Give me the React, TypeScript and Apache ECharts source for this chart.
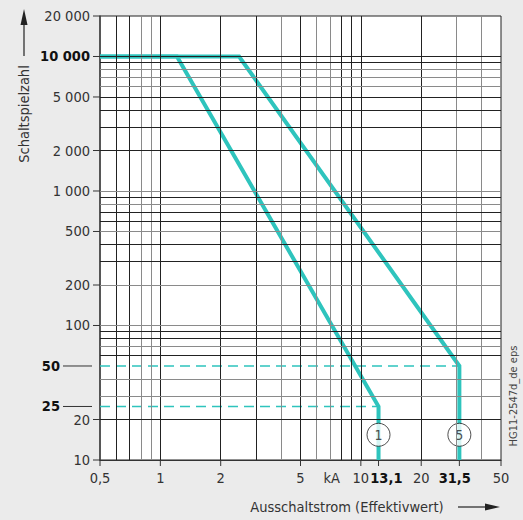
import React, { useEffect, useRef } from 'react';
import * as echarts from 'echarts';

// ---- data ----
const xGridValues = [0.6, 0.7, 0.8, 0.9, 1, 2, 3, 4, 5, 6, 7, 8, 9, 10, 20, 30, 40];
const yGridValues = [10000, 9000, 8000, 7000, 6000, 5000, 4000, 3000, 2000, 1000, 900, 800, 700, 600, 500, 400, 300, 200, 100, 90, 80, 70, 60, 40, 30, 20];
const xTickValues = [0.5, 1, 2, 5, 10, 20, 50];
const xTickLabels = ['0,5', '1', '2', '5', '10', '20', '50'];
const ratedLabels = ['13,1', '31,5'];
const ratedLabelValues = [13.1, 31.5];
const ratedLineValues = [12.25, 31];
const unitLabel = 'kA';
const unitLabelValue = 7.15;
const yTickValues = [20000, 10000, 5000, 2000, 1000, 500, 200, 100, 20, 10];
const yTickLabels = ['20 000', '10 000', '5 000', '2 000', '1 000', '500', '200', '100', '20', '10'];
const yMarkValues = [50, 25];
const yMarkLabels = ['50', '25'];
const curve1: number[][] = [[0.5, 10000], [1.21, 10000], [12.25, 25], [12.25, 10]];
const curve5: number[][] = [[0.5, 10000], [2.47, 10000], [31, 50], [31, 10]];
const dash25: number[][] = [[0.5, 25], [12.25, 25]];
const dash50: number[][] = [[0.5, 50], [31, 50]];
const markerLabels = ['1', '5'];
const markerPoints: number[][] = [[12.25, 15.4], [31, 15.4]];
const yTitle = 'Schaltspielzahl';
const xTitle = 'Ausschaltstrom (Effektivwert)';
const codeText = 'HG11-2547d_de eps';

// ---- styles ----
const CYAN = '#2ec4bd';
const DARK = '#222222';
const GRAY = '#8a8a8a';
const TEXT = '#333333';
const FONT = '"Liberation Sans Narrow", "DejaVu Sans Condensed", "Roboto", sans-serif';
const FS = 14.5;
const grayGrid = new Set([0.8, 0.9, 4, 6, 7, 40, 8000, 7000, 6000, 1000, 800, 500, 200, 100, 70, 30]);
const boldY = new Set(['10 000']);

export default function App() {
  const ref = useRef<HTMLDivElement>(null);
  useEffect(() => {
    const el = ref.current!;
    const chart = echarts.init(el, null, { renderer: 'svg' });
    const gridLines = [
      ...xGridValues.map((v) => ({ xAxis: v, lineStyle: { color: grayGrid.has(v) ? GRAY : DARK, width: 1, type: 'solid' } })),
      ...yGridValues.map((v) => ({ yAxis: v, lineStyle: { color: grayGrid.has(v) ? GRAY : DARK, width: 1, type: 'solid' } })),
    ];
    chart.setOption({
      animation: false,
      backgroundColor: '#ebebeb',
      grid: { left: 100, right: 22, top: 16, bottom: 60, show: true, backgroundColor: '#ffffff', borderColor: DARK, borderWidth: 1, containLabel: false, outerBoundsMode: 'none' },
      xAxis: {
        type: 'log', logBase: 10, min: 0.5, max: 50,
        axisLine: { show: true, onZero: false, lineStyle: { color: '#333', width: 1.2 } },
        axisTick: { show: false }, axisLabel: { show: false }, splitLine: { show: false },
      },
      yAxis: {
        type: 'log', logBase: 10, min: 10, max: 20000,
        axisLine: { show: true, onZero: false, lineStyle: { color: '#444', width: 1.5 } },
        axisTick: { show: false }, axisLabel: { show: false }, splitLine: { show: false },
      },
      series: [
        {
          type: 'line', z: 1, data: [[0.5, 10], [50, 20000]], symbol: 'none', silent: true,
          lineStyle: { opacity: 0, width: 0 },
          markLine: { silent: true, symbol: ['none', 'none'], label: { show: false }, emphasis: { disabled: true }, data: gridLines },
        },
        { type: 'line', z: 2, data: dash50, symbol: 'none', silent: true, lineStyle: { color: CYAN, width: 1.5, type: [10, 6] } },
        { type: 'line', z: 2, data: dash25, symbol: 'none', silent: true, lineStyle: { color: CYAN, width: 1.5, type: [10, 6] } },
        { type: 'line', z: 3, data: curve1, symbol: 'none', silent: true, lineStyle: { color: CYAN, width: 4, join: 'miter' } },
        { type: 'line', z: 3, data: curve5, symbol: 'none', silent: true, lineStyle: { color: CYAN, width: 4, join: 'miter' } },
        {
          type: 'scatter', z: 4, data: markerPoints, symbol: 'circle', symbolSize: 23, silent: true,
          itemStyle: { color: '#fff', borderColor: '#222', borderWidth: 1 },
          label: { show: true, position: 'inside', formatter: (p: any) => markerLabels[p.dataIndex], color: '#222', fontSize: 14, fontFamily: FONT },
        },
      ],
    });

    const P = (x: number, y: number) => chart.convertToPixel({ gridIndex: 0 }, [x, y]) as number[];
    const origin = P(0.5, 10);
    const leftX = origin[0];
    const bottomY = origin[1];
    const txt = (x: number, y: number, text: string, o: any = {}) => ({
      type: 'text', x, y, rotation: o.rotation || 0, silent: true, z: 10,
      style: {
        text, fill: o.fill || TEXT, fontSize: o.fontSize || FS, fontFamily: FONT, fontWeight: o.bold ? 'bold' : 'normal',
        align: o.align || 'center', textAlign: o.align || 'center', verticalAlign: 'middle', textVerticalAlign: 'middle',
      },
    });
    const line = (x1: number, y1: number, x2: number, y2: number, color = '#333', w = 1) => ({
      type: 'line', silent: true, z: 10, shape: { x1, y1, x2, y2 }, style: { stroke: color, lineWidth: w },
    });
    const g: any[] = [];
    // x ticks & labels
    xTickValues.forEach((v, i) => {
      const px = P(v, 10)[0];
      g.push(line(px, bottomY, px, bottomY + 6));
      g.push(txt(px, bottomY + 18, xTickLabels[i]));
    });
    ratedLineValues.forEach((v) => {
      const px = P(v, 10)[0];
      g.push(line(px, bottomY, px, bottomY + 6));
    });
    ratedLabelValues.forEach((v, i) => {
      const px = P(v, 10)[0] + (i === 0 ? 2 : -6);
      g.push(txt(px, bottomY + 18, ratedLabels[i], { bold: true, fill: '#111' }));
    });
    g.push(txt(P(unitLabelValue, 10)[0], bottomY + 18, unitLabel));
    // y ticks & labels
    yTickValues.forEach((v, i) => {
      const py = P(0.5, v)[1];
      g.push(line(leftX - 7, py, leftX, py));
      const b = boldY.has(yTickLabels[i]);
      g.push(txt(leftX - 10, py, yTickLabels[i], { align: 'right', bold: b, fill: b ? '#111' : TEXT }));
    });
    yMarkValues.forEach((v, i) => {
      const py = P(0.5, v)[1];
      g.push(line(leftX - 37, py, leftX - 8, py));
      g.push(txt(leftX - 40, py, yMarkLabels[i], { align: 'right', bold: true, fill: '#111' }));
    });
    // axis titles with arrows
    g.push(txt(24, 114, yTitle, { rotation: Math.PI / 2 }));
    g.push(line(24, 56, 24, 24, '#222', 1.2));
    g.push({ type: 'polygon', silent: true, z: 10, shape: { points: [[24, 9], [20.5, 25], [27.5, 25]] }, style: { fill: '#222' } });
    g.push(txt(347, 507, xTitle));
    g.push(line(458, 507, 488, 507, '#222', 1.2));
    g.push({ type: 'polygon', silent: true, z: 10, shape: { points: [[500, 507], [485, 503.5], [485, 510.5]] }, style: { fill: '#222' } });
    g.push(txt(513, 396, codeText, { rotation: Math.PI / 2, fontSize: 11, fill: '#444' }));
    chart.setOption({ graphic: g });
    return () => chart.dispose();
  }, []);
  return <div ref={ref} style={{ position: 'fixed', left: 0, top: 0, width: 523, height: 520 }} />;
}
